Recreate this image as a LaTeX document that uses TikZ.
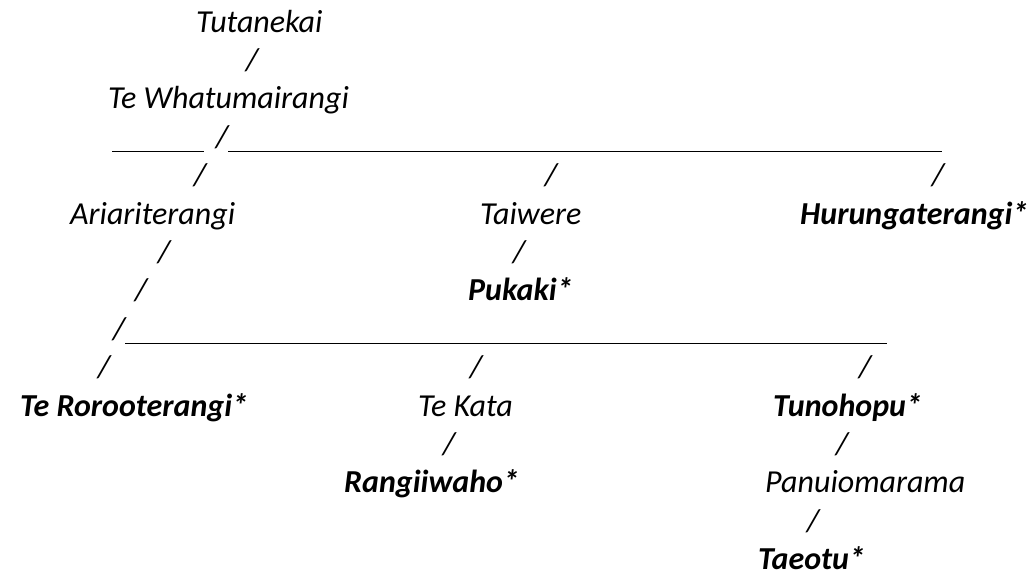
\documentclass[tikz,border=0pt]{standalone}
\usepackage{fontspec}
\setmainfont{Carlito}
\begin{document}
\begin{tikzpicture}[x=1pt,y=-1pt,
        every node/.style={inner sep=0pt,font=\fontsize{32}{38.4}\selectfont\itshape},
        person/.style={anchor=base west},
        star/.style={anchor=base west,font=\fontsize{32}{38.4}\selectfont\itshape\bfseries},
        sl/.style={anchor=base},
        bar/.style={line width=1.8pt}]
        \useasboundingbox (0,0) rectangle (1027,576);
        \node[person] (tutanekai) at (196,32) {Tutanekai};
        \node[sl] (s1) at (252,70.4) {/};
        \node[person] (whatu) at (108,108.8) {Te Whatumairangi};
        \coordinate (b1a) at (112,151.5);
        \coordinate (b1b) at (204,151.5);
        \node[sl] (s2) at (222,147.2) {/};
        \coordinate (b2a) at (228,151.5);
        \coordinate (b2b) at (942,151.5);
        \draw[bar] (b1a)--(b1b);
        \draw[bar] (b2a)--(b2b);
        \node[sl] (s3) at (200,185.6) {/};
        \node[sl] (s4) at (551,185.6) {/};
        \node[sl] (s5) at (938,185.6) {/};
        \node[person] (ariari) at (70,224) {Ariariterangi};
        \node[person] (taiwere) at (480,224) {Taiwere};
        \node[star] (hurunga) at (800,224) {Hurungaterangi*};
        \node[sl] (s6) at (164,262.4) {/};
        \node[sl] (s7) at (519,262.4) {/};
        \node[sl] (s8) at (141,300.8) {/};
        \node[star] (pukaki) at (468,300.8) {Pukaki*};
        \node[sl] (s9) at (119,339.2) {/};
        \coordinate (b3a) at (125,343.5);
        \coordinate (b3b) at (887,343.5);
        \draw[bar] (b3a)--(b3b);
        \node[sl] (s10) at (104,377.6) {/};
        \node[sl] (s11) at (476,377.6) {/};
        \node[sl] (s12) at (865,377.6) {/};
        \node[star] (roro) at (20,416) {Te Rorooterangi*};
        \node[person] (tekata) at (418,416) {Te Kata};
        \node[star] (tunohopu) at (773,416) {Tunohopu*};
        \node[sl] (s13) at (449,454.4) {/};
        \node[sl] (s14) at (842,454.4) {/};
        \node[star] (rangi) at (344,492.8) {Rangiiwaho*};
        \node[person] (panui) at (765,492.8) {Panuiomarama};
        \node[sl] (s15) at (813,531.2) {/};
        \node[star] (taeotu) at (758,569.6) {Taeotu*};
    \end{tikzpicture}
\end{document}
